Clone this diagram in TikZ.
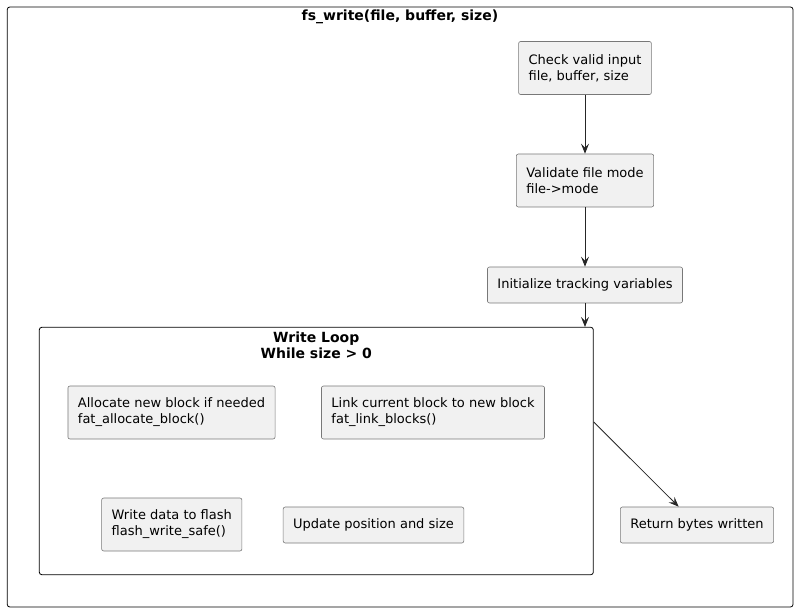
\documentclass[tikz,border=0pt]{standalone}
\usepackage{fontspec}
\setmainfont{DejaVu Sans}
\usetikzlibrary{arrows.meta}
\definecolor{boxfill}{RGB}{241,241,241}
\definecolor{boxline}{RGB}{120,120,120}
\begin{document}
\begin{tikzpicture}[x=1pt,y=-1pt,
    step box/.style={draw=boxline,fill=boxfill,line width=0.6pt,rounded corners=2pt,
      align=left,inner xsep=10pt,font=\fontsize{13}{16}\selectfont},
    two line/.style={minimum height=53pt},
    one line/.style={minimum height=36pt},
    frame/.style={draw=black,line width=0.8pt,rounded corners=2.5pt},
    arr/.style={draw=black!85,line width=0.8pt,-{Stealth[length=10pt,width=8pt,inset=4pt]}}]
  \useasboundingbox (0,0) rectangle (798,612);
  % outer frame with its title
  \draw[frame] (7.3,7) rectangle (793,607);
  \node[font=\bfseries\fontsize{14}{16}\selectfont] (title) at (400,17) {fs\_write(file, buffer, size)};
  % main column
  \node[step box,two line] (chk) at (585,68) {Check valid input\\file, buffer, size};
  \node[step box,two line] (val) at (585,180.5) {Validate file mode\\file->mode};
  \node[step box,one line] (init) at (585,285) {Initialize tracking variables};
  % the loop
  \node[frame,minimum width=554pt,minimum height=247.4pt,inner sep=0pt] (loop) at (316.3,451) {};
  \node[font=\bfseries\fontsize{14}{16}\selectfont,align=center,anchor=north]
    (looptitle) at ([yshift=-1pt]loop.north) {Write Loop\\While size > 0};
  \node[step box,two line] (alloc) at (171.5,412.5) {Allocate new block if needed\\fat\_allocate\_block()};
  \node[step box,two line] (link) at (433,412.5) {Link current block to new block\\fat\_link\_blocks()};
  \node[step box,two line] (wdata) at (171.8,524.5) {Write data to flash\\flash\_write\_safe()};
  \node[step box,one line] (upd) at (373.5,525) {Update position and size};
  \node[step box,one line] (ret) at (697,525) {Return bytes written};
  % connectors
  \draw[arr] (chk) -- (val);
  \draw[arr] (val) -- (init);
  \draw[arr] (init.south) -- (init.south |- loop.north);
  \draw[arr] ([yshift=29pt]loop.east) -- (ret);
\end{tikzpicture}
\end{document}
